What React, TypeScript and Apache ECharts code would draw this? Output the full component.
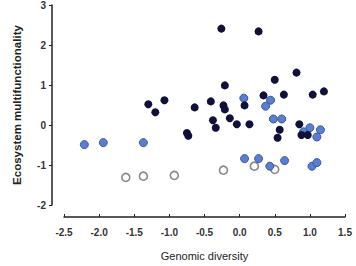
import React, { useEffect, useRef } from "react";
import * as echarts from "echarts";

const xTicks = [-2.5, 1.5];
const yRange = [-2, 3];

const darkPoints: [number, number][] = [
  [-0.26, 2.41], [0.27, 2.34], [0.81, 1.31], [0.5, 1.13], [-0.21, 0.99],
  [0.34, 0.74], [0.63, 0.76], [1.04, 0.76], [1.2, 0.84], [0.07, 0.49],
  [-0.64, 0.44], [-0.41, 0.59], [-0.23, 0.49], [-0.21, 0.39], [-0.14, 0.17],
  [-0.38, 0.12], [-0.34, -0.07], [-0.04, 0.02], [0.14, 0.02], [0.57, -0.12],
  [0.54, -0.32], [0.85, 0.02], [0.88, -0.25], [0.97, -0.25], [-0.75, -0.2],
  [-0.73, -0.27], [-1.3, 0.52], [-1.07, 0.62], [-1.2, 0.32],
];

const bluePoints: [number, number][] = [
  [0.06, 0.67], [0.44, 0.62], [0.37, 0.47], [0.48, 0.15], [0.6, 0.15],
  [1.0, -0.07], [1.15, -0.12], [1.1, -0.3], [0.91, -0.17],
  [-2.21, -0.49], [-1.94, -0.44], [-1.37, -0.44],
  [0.07, -0.84], [0.27, -0.84], [0.64, -0.89], [0.43, -1.03], [1.03, -1.03], [1.1, -0.94],
];

const hollowPoints: [number, number][] = [
  [-1.62, -1.31], [-1.37, -1.28], [-0.93, -1.26], [-0.23, -1.13], [0.21, -1.03], [0.5, -1.11],
];

export default function App() {
  const ref = useRef<HTMLDivElement>(null);
  useEffect(() => {
    if (!ref.current) return;
    const chart = echarts.init(ref.current, null, { renderer: "svg" });
    const font = "'Liberation Sans', Arial, sans-serif";
    chart.setOption({
      animation: false,
      backgroundColor: "#ffffff",
      grid: { left: 64, right: 11, top: 3, bottom: 61 },
      xAxis: {
        type: "value",
        min: xTicks[0],
        max: xTicks[1],
        interval: 0.5,
        offset: 12,
        name: "Genomic diversity",
        nameLocation: "middle",
        nameGap: 33,
        nameTextStyle: { fontFamily: font, fontSize: 11, color: "#222" },
        axisLine: { show: true, onZero: false, lineStyle: { color: "#222", width: 1.5 } },
        axisTick: { show: true, inside: true, length: 3, lineStyle: { color: "#222" } },
        axisLabel: {
          fontFamily: font, fontSize: 10, fontWeight: "bold", color: "#333", margin: 10,
          formatter: (v: number) => v.toFixed(1),
        },
        splitLine: { show: false },
      },
      yAxis: {
        type: "value",
        min: yRange[0],
        max: yRange[1],
        interval: 1,
        offset: 12,
        name: "Ecosystem multifunctionality",
        nameLocation: "middle",
        nameGap: 29,
        nameTextStyle: { fontFamily: font, fontSize: 11.5, fontWeight: "bold", color: "#222" },
        axisLine: { show: true, onZero: false, lineStyle: { color: "#222", width: 1.5 } },
        axisTick: { show: true, length: 3, lineStyle: { color: "#222" } },
        axisLabel: { fontFamily: font, fontSize: 10, fontWeight: "bold", color: "#333", margin: 6 },
        splitLine: { show: false },
      },
      series: [
        {
          type: "scatter",
          data: hollowPoints,
          symbolSize: 8,
          itemStyle: { color: "#ffffff", borderColor: "#8a8a8a", borderWidth: 1.6, opacity: 1 },
        },
        {
          type: "scatter",
          data: bluePoints,
          symbolSize: 8,
          itemStyle: { color: "#5b7fd0", borderColor: "#3a55a0", borderWidth: 1, opacity: 1 },
        },
        {
          type: "scatter",
          data: darkPoints,
          symbolSize: 8,
          itemStyle: { color: "#10103a", opacity: 1 },
        },
      ],
    });
    return () => chart.dispose();
  }, []);
  return <div ref={ref} style={{ width: 356, height: 266, position: "absolute", left: 0, top: 0 }} />;
}
